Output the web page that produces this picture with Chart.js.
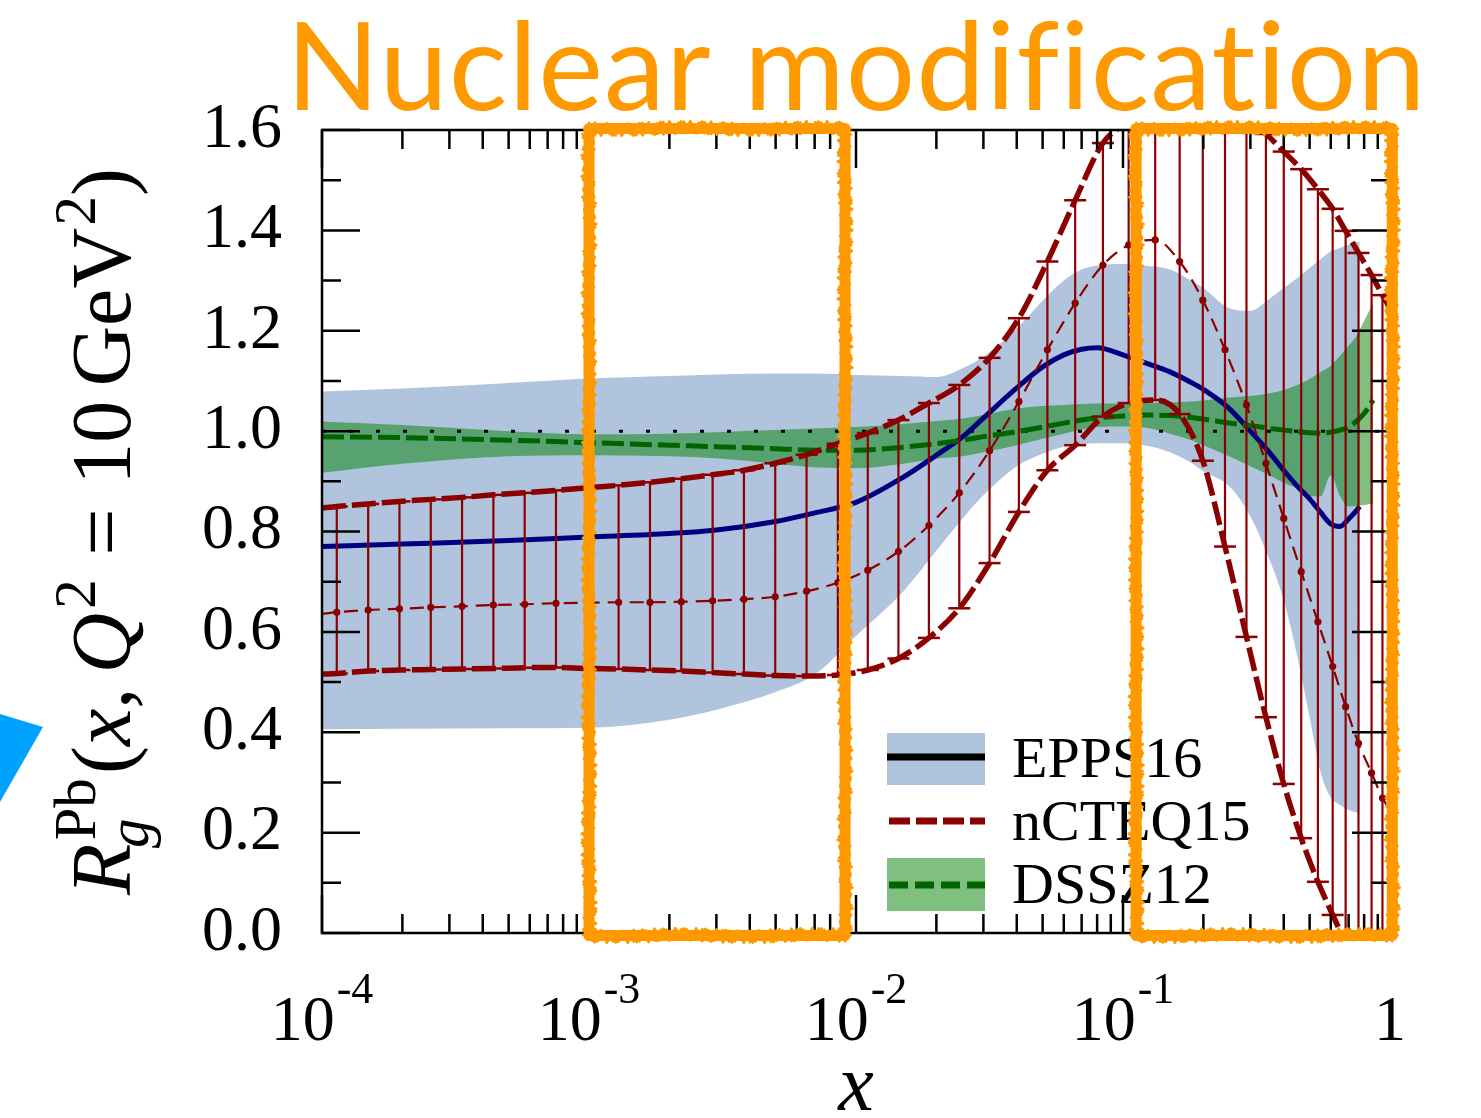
<!DOCTYPE html>
<html>
<head>
<meta charset="utf-8">
<script src="https://cdn.jsdelivr.net/npm/chart.js@4.4.1/dist/chart.umd.min.js"></script>
<style>
html,body{margin:0;padding:0;background:#fff;}
canvas{display:block;}
</style>
</head>
<body>
<canvas id="c" width="1481" height="1118"></canvas>
<script>
// ---------------- data ----------------
const eppsX = [1e-4, 2e-4, 5e-4, 1e-3, 2e-3, 3e-3, 5e-3, 7e-3, 0.01, 0.015, 0.02, 0.025, 0.03, 0.04, 0.05, 0.06, 0.07, 0.08, 0.1, 0.12, 0.15, 0.18, 0.2, 0.25, 0.3, 0.35, 0.4, 0.45, 0.5, 0.55, 0.6, 0.65, 0.7, 0.75, 0.77];
const eppsCentral = [0.770, 0.775, 0.782, 0.789, 0.796, 0.803, 0.820, 0.837, 0.858, 0.908, 0.952, 0.988, 1.026, 1.086, 1.128, 1.152, 1.163, 1.166, 1.152, 1.137, 1.118, 1.097, 1.083, 1.045, 1.000, 0.960, 0.922, 0.890, 0.865, 0.838, 0.815, 0.810, 0.825, 0.842, 0.850];
const eppsHigh = [1.079, 1.085, 1.096, 1.105, 1.110, 1.113, 1.115, 1.115, 1.112, 1.110, 1.108, 1.125, 1.148, 1.205, 1.260, 1.300, 1.322, 1.330, 1.333, 1.330, 1.322, 1.300, 1.285, 1.245, 1.240, 1.262, 1.285, 1.305, 1.325, 1.343, 1.358, 1.365, 1.372, 1.377, 1.377];
const eppsLow = [0.406, 0.407, 0.408, 0.409, 0.425, 0.445, 0.480, 0.515, 0.592, 0.680, 0.762, 0.825, 0.872, 0.930, 0.955, 0.969, 0.974, 0.976, 0.976, 0.972, 0.958, 0.937, 0.920, 0.890, 0.830, 0.750, 0.663, 0.550, 0.430, 0.320, 0.270, 0.255, 0.245, 0.240, 0.238];

const dsszX = [1e-4, 2e-4, 5e-4, 1e-3, 2e-3, 3e-3, 5e-3, 7e-3, 0.01, 0.015, 0.02, 0.025, 0.03, 0.04, 0.05, 0.06, 0.07, 0.08, 0.1, 0.12, 0.15, 0.18, 0.2, 0.25, 0.3, 0.35, 0.4, 0.45, 0.5, 0.55, 0.6, 0.65, 0.7, 0.75, 0.8, 0.865];
const dsszCentral = [0.989, 0.987, 0.982, 0.977, 0.972, 0.969, 0.965, 0.962, 0.962, 0.968, 0.975, 0.982, 0.989, 0.999, 1.008, 1.016, 1.022, 1.026, 1.030, 1.032, 1.031, 1.027, 1.024, 1.016, 1.011, 1.006, 1.002, 0.999, 0.997, 0.996, 0.998, 1.002, 1.008, 1.020, 1.035, 1.062];
const dsszHigh = [1.019, 1.012, 1.000, 0.994, 0.995, 0.998, 1.002, 1.005, 1.008, 1.014, 1.020, 1.025, 1.032, 1.045, 1.050, 1.052, 1.054, 1.055, 1.055, 1.056, 1.057, 1.059, 1.061, 1.067, 1.070, 1.075, 1.082, 1.092, 1.104, 1.118, 1.130, 1.150, 1.170, 1.190, 1.220, 1.255];
const dsszLow = [0.917, 0.935, 0.950, 0.952, 0.950, 0.946, 0.935, 0.928, 0.926, 0.935, 0.945, 0.950, 0.958, 0.972, 0.985, 0.995, 1.003, 1.008, 1.009, 1.007, 0.995, 0.982, 0.972, 0.950, 0.930, 0.913, 0.897, 0.885, 0.870, 0.870, 0.912, 0.870, 0.850, 0.851, 0.853, 0.856];

const ncX = [1e-4, 1.136e-4, 1.489e-4, 1.950e-4, 2.555e-4, 3.346e-4, 4.384e-4, 5.743e-4, 7.522e-4, 9.858e-4, 1.291e-3, 1.692e-3, 2.216e-3, 2.904e-3, 3.804e-3, 4.983e-3, 6.529e-3, 8.553e-3, 0.01107, 0.01442, 0.01875, 0.02437, 0.03164, 0.04074, 0.0521, 0.0662, 0.0841, 0.105, 0.132, 0.163, 0.199, 0.241, 0.290, 0.343, 0.400, 0.465, 0.537, 0.610, 0.682, 0.762, 0.853, 0.937, 1.0];
const ncHigh = [0.847, 0.850, 0.855, 0.860, 0.864, 0.868, 0.873, 0.877, 0.882, 0.887, 0.892, 0.898, 0.905, 0.913, 0.922, 0.936, 0.953, 0.975, 0.996, 1.022, 1.056, 1.092, 1.146, 1.225, 1.338, 1.460, 1.574, 1.615, 1.635, 1.645, 1.645, 1.635, 1.620, 1.592, 1.557, 1.522, 1.482, 1.443, 1.399, 1.355, 1.311, 1.271, 1.245];
const ncCentral = [0.636, 0.639, 0.6436, 0.646, 0.649, 0.651, 0.6535, 0.655, 0.657, 0.658, 0.659, 0.659, 0.660, 0.662, 0.665, 0.670, 0.681, 0.698, 0.723, 0.760, 0.812, 0.877, 0.961, 1.059, 1.162, 1.255, 1.331, 1.371, 1.381, 1.338, 1.261, 1.162, 1.052, 0.936, 0.826, 0.720, 0.620, 0.531, 0.451, 0.378, 0.319, 0.269, 0.245];
const ncLow = [0.516, 0.517, 0.522, 0.524, 0.525, 0.526, 0.527, 0.5286, 0.529, 0.527, 0.526, 0.524, 0.522, 0.519, 0.516, 0.513, 0.512, 0.514, 0.524, 0.547, 0.588, 0.647, 0.737, 0.839, 0.922, 0.972, 1.029, 1.056, 1.062, 1.034, 0.941, 0.770, 0.590, 0.430, 0.297, 0.189, 0.102, 0.036, -0.020, -0.080, -0.140, -0.200, -0.250];

const refX = [1e-4, 1];
const refY = [1.0, 1.0];

const xMajorTicks = [1e-4, 1e-3, 1e-2, 1e-1, 1];
const xTickBase = ['10', '10', '10', '10', '1'];
const xTickExp = ['-4', '-3', '-2', '-1', ''];
const legendLabels = ['EPPS16', 'nCTEQ15', 'DSSZ12'];
const titleText = 'Nuclear modification';
const xTitle = 'x';
// highlighted x ranges (data units)
const boxXRanges = [[1.0e-3, 0.0091], [0.112, 1.02]];
const boxYRange = [-0.005, 1.603];

// ---------------- helpers ----------------
const SERIF = '"Liberation Serif", "DejaVu Serif", serif';
const pts = (xs, ys) => xs.map((x, i) => ({x: x, y: ys[i]}));
const errPts = [];
for (let i = 1; i < ncX.length - 1; i++) {
  errPts.push({x: ncX[i], y: ncLow[i]});
  errPts.push({x: ncX[i], y: ncHigh[i]});
  errPts.push({x: ncX[i], y: null});
}
const RED = '#8b0000';

function roughRect(ctx, x0, y0, x1, y1) {
  ctx.save();
  ctx.strokeStyle = '#ff9900';
  ctx.lineJoin = 'round';
  ctx.lineCap = 'round';
  ctx.lineWidth = 11;
  ctx.strokeRect(x0, y0, x1 - x0, y1 - y0);
  const passes = [[3, 0.0, 7], [2.5, 2.1, 7.5], [2, 4.2, 6.5], [2, 5.3, 8]];
  passes.forEach(([w, ph, amp]) => {
    ctx.lineWidth = w;
    ctx.beginPath();
    const edges = [[x0, y0, x1, y0], [x1, y0, x1, y1], [x1, y1, x0, y1], [x0, y1, x0, y0]];
    edges.forEach(([ax, ay, bx, by]) => {
      const len = Math.hypot(bx - ax, by - ay);
      const n = Math.ceil(len / 3);
      const nx = -(by - ay) / len, ny = (bx - ax) / len;
      for (let i = 0; i <= n; i++) {
        const t = i / n;
        const off = amp * Math.sin(i * 1.37 + ph) * Math.cos(i * 0.41 + ph * 2.3);
        const px = ax + (bx - ax) * t + nx * off;
        const py = ay + (by - ay) * t + ny * off;
        if (i === 0) ctx.moveTo(px, py); else ctx.lineTo(px, py);
      }
    });
    ctx.stroke();
  });
  ctx.restore();
}

function mathRun(ctx, F, draw) {
  let x = 0;
  const fnt = (sz, it) => (it ? 'italic ' : '') + sz + 'px ' + SERIF;
  const put = (t, sz, it, dy, dx0) => {
    ctx.font = fnt(sz, it);
    const w = ctx.measureText(t).width;
    if (draw) ctx.fillText(t, x + (dx0 || 0), dy);
    return w;
  };
  x += put('R', F, true, 0);
  const wPb = put('Pb', 0.7 * F, false, -0.42 * F, 0.04 * F);
  const wg = put('g', 0.7 * F, true, 0.22 * F, -0.05 * F);
  x += Math.max(wPb + 0.04 * F, wg) + 0.05 * F;
  x += put('(', F, false, 0);
  x += put('x', F, true, 0);
  x += put(',', F, false, 0);
  x += 0.17 * F;
  x += put('Q', F, true, 0);
  x += put('2', 0.7 * F, false, -0.42 * F, 0.05 * F) + 0.05 * F;
  x += 0.28 * F;
  x += put('=', F, false, 0);
  x += 0.28 * F;
  x += put('10', F, false, 0);
  x += 0.17 * F;
  x += put('GeV', F, false, 0);
  x += put('2', 0.7 * F, false, -0.42 * F, 0.03 * F) + 0.03 * F;
  x += put(')', F, false, 0);
  return x;
}

const decor = {
  id: 'decor',
  afterDraw(chart) {
    const ctx = chart.ctx;
    const {left: L, right: R, top: T, bottom: B} = chart.chartArea;
    const xs = chart.scales.x, ys = chart.scales.y;
    ctx.save();
    // ticks (inward, all four sides)
    ctx.strokeStyle = '#000';
    ctx.lineWidth = 2.5;
    ctx.lineCap = 'butt';
    ctx.beginPath();
    const yT = ys.ticks.map(t => t.value);
    for (let i = 0; i < yT.length; i++) {
      const py = ys.getPixelForValue(yT[i]);
      ctx.moveTo(L, py); ctx.lineTo(L + 38, py);
      ctx.moveTo(R, py); ctx.lineTo(R - 38, py);
      if (i < yT.length - 1) {
        const pm = ys.getPixelForValue((yT[i] + yT[i + 1]) / 2);
        ctx.moveTo(L, pm); ctx.lineTo(L + 19, pm);
        ctx.moveTo(R, pm); ctx.lineTo(R - 19, pm);
      }
    }
    xMajorTicks.forEach((v, i) => {
      const px = xs.getPixelForValue(v);
      ctx.moveTo(px, B); ctx.lineTo(px, B - 38);
      ctx.moveTo(px, T); ctx.lineTo(px, T + 38);
      if (i < xMajorTicks.length - 1) {
        for (let m = 2; m <= 9; m++) {
          const pm = xs.getPixelForValue(v * m);
          ctx.moveTo(pm, B); ctx.lineTo(pm, B - 19);
          ctx.moveTo(pm, T); ctx.lineTo(pm, T + 19);
        }
      }
    });
    ctx.stroke();
    ctx.lineWidth = 2.5;
    ctx.strokeRect(L, T, R - L, B - T);

    // x tick labels
    ctx.fillStyle = '#000';
    ctx.textBaseline = 'alphabetic';
    ctx.textAlign = 'left';
    xMajorTicks.forEach((v, i) => {
      const px = xs.getPixelForValue(v);
      ctx.font = '64px ' + SERIF;
      const wb = ctx.measureText(xTickBase[i]).width;
      ctx.font = '44px ' + SERIF;
      const we = xTickExp[i] ? ctx.measureText(xTickExp[i]).width + 2 : 0;
      const x0 = px - (wb + we) / 2;
      ctx.font = '64px ' + SERIF;
      ctx.fillText(xTickBase[i], x0, 1040);
      if (xTickExp[i]) {
        ctx.font = '44px ' + SERIF;
        ctx.fillText(xTickExp[i], x0 + wb + 2, 1003);
      }
    });
    // x title
    ctx.font = 'italic 80px ' + SERIF;
    ctx.textAlign = 'center';
    ctx.fillText(xTitle, (L + R) / 2, 1110);
    ctx.textAlign = 'left';

    // y title
    const w0 = mathRun(ctx, 80, false);
    const F = Math.min(86, 80 * 727 / w0);
    ctx.save();
    ctx.translate(130, 895);
    ctx.rotate(-Math.PI / 2);
    mathRun(ctx, F, true);
    ctx.restore();

    // legend
    const lx0 = 887, lx1 = 985;
    ctx.fillStyle = '#b0c4de';
    ctx.fillRect(lx0, 733, lx1 - lx0, 52);
    ctx.strokeStyle = '#000';
    ctx.lineWidth = 7;
    ctx.beginPath(); ctx.moveTo(lx0, 757); ctx.lineTo(lx1, 757); ctx.stroke();
    ctx.strokeStyle = RED;
    ctx.setLineDash([21, 6]);
    ctx.beginPath(); ctx.moveTo(lx0 + 2, 821); ctx.lineTo(lx1, 821); ctx.stroke();
    ctx.fillStyle = 'rgba(0,128,0,0.5)';
    ctx.fillRect(lx0, 858, lx1 - lx0, 53);
    ctx.strokeStyle = '#006400';
    ctx.setLineDash([19, 7]);
    ctx.beginPath(); ctx.moveTo(lx0 + 2, 885); ctx.lineTo(lx1, 885); ctx.stroke();
    ctx.setLineDash([]);
    ctx.fillStyle = '#000';
    ctx.font = '58px ' + SERIF;
    ctx.fillText(legendLabels[0], 1012, 777);
    ctx.fillText(legendLabels[1], 1012, 840);
    ctx.fillText(legendLabels[2], 1012, 903);

    // title
    ctx.fillStyle = '#ff9900';
    try { ctx.letterSpacing = '1px'; } catch (e) {}
    ctx.font = '120px Lato, "Open Sans", sans-serif';
    const tw = ctx.measureText(titleText).width;
    const ts = 120 * 1141 / tw;
    ctx.font = ts.toFixed(1) + 'px Lato, "Open Sans", sans-serif';
    ctx.fillText(titleText, 286, 110);
    try { ctx.letterSpacing = '0px'; } catch (e) {}

    // highlight boxes
    boxXRanges.forEach(r => {
      roughRect(ctx, xs.getPixelForValue(r[0]), ys.getPixelForValue(boxYRange[1]),
                xs.getPixelForValue(r[1]), ys.getPixelForValue(boxYRange[0]));
    });

    // decorative triangle at the left edge
    ctx.fillStyle = '#00a2ff';
    ctx.beginPath();
    ctx.moveTo(0, 714); ctx.lineTo(43, 727); ctx.lineTo(0, 802); ctx.closePath();
    ctx.fill();
    ctx.restore();
  }
};

const bandBase = {borderWidth: 0, pointRadius: 0, cubicInterpolationMode: 'monotone'};

new Chart(document.getElementById('c'), {
  type: 'line',
  data: {
    datasets: [
      Object.assign({label: 'EPPS16 high', data: pts(eppsX, eppsHigh), fill: '+1', backgroundColor: '#b0c4de', order: 10}, bandBase),
      Object.assign({label: 'EPPS16 low', data: pts(eppsX, eppsLow), fill: false, order: 10}, bandBase),
      Object.assign({label: 'DSSZ12 high', data: pts(dsszX, dsszHigh), fill: '+1', backgroundColor: 'rgba(0,128,0,0.5)', order: 9}, bandBase),
      Object.assign({label: 'DSSZ12 low', data: pts(dsszX, dsszLow), fill: false, order: 9}, bandBase),
      {label: 'ref', data: pts(refX, refY), borderColor: '#000', borderWidth: 3, borderDash: [4, 23], pointRadius: 0, fill: false, order: 8},
      {label: 'EPPS16', data: pts(eppsX, eppsCentral), borderColor: '#000080', borderWidth: 5, pointRadius: 0, fill: false, cubicInterpolationMode: 'monotone', order: 7},
      {label: 'DSSZ12', data: pts(dsszX, dsszCentral), borderColor: '#006400', borderWidth: 5, borderDash: [22, 6], pointRadius: 0, fill: false, cubicInterpolationMode: 'monotone', order: 6},
      {label: 'nCTEQ15 err', data: errPts, borderColor: RED, borderWidth: 2.2, spanGaps: false, fill: false,
        pointStyle: 'line', pointRadius: 11, pointBorderWidth: 2.5, pointBorderColor: RED, pointBackgroundColor: RED, order: 5},
      {label: 'nCTEQ15 low', data: pts(ncX, ncLow), borderColor: RED, borderWidth: 5.5, borderDash: [24, 6], pointRadius: 0, fill: false, cubicInterpolationMode: 'monotone', order: 4},
      {label: 'nCTEQ15 high', data: pts(ncX, ncHigh), borderColor: RED, borderWidth: 5.5, borderDash: [24, 6], pointRadius: 0, fill: false, cubicInterpolationMode: 'monotone', order: 3},
      {label: 'nCTEQ15', data: pts(ncX, ncCentral), borderColor: RED, borderWidth: 2.2, borderDash: [14, 8], fill: false, cubicInterpolationMode: 'monotone',
        pointRadius: (c) => (c.dataIndex === 0 || c.dataIndex === ncX.length - 1) ? 0 : 3.6,
        pointBackgroundColor: RED, pointBorderColor: RED, pointBorderWidth: 0, order: 2}
    ]
  },
  options: {
    responsive: false,
    animation: false,
    events: [],
    layout: {padding: {left: 0, top: 130, right: 91, bottom: 185}},
    plugins: {legend: {display: false}, tooltip: {enabled: false}},
    scales: {
      x: {type: 'logarithmic', min: 1e-4, max: 1, display: false},
      y: {
        type: 'linear', min: 0, max: 1.6,
        grid: {display: false, drawTicks: false},
        border: {display: false},
        ticks: {stepSize: 0.2, padding: 40, color: '#000', font: {family: SERIF, size: 64},
          callback: (v) => Number(v).toFixed(1)},
        afterFit: (s) => { s.width = 322; }
      }
    }
  },
  plugins: [decor]
});
</script>
</body>
</html>
